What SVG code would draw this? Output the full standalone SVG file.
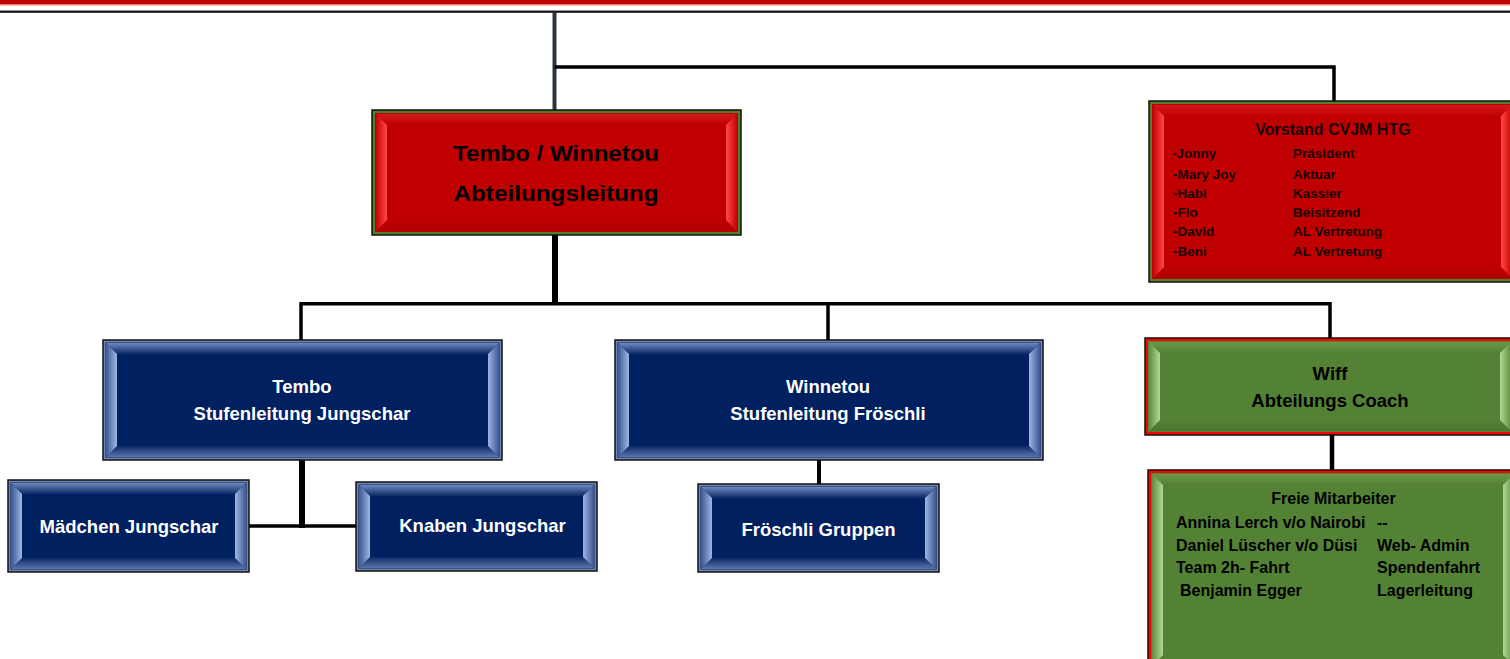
<svg xmlns="http://www.w3.org/2000/svg" width="1510" height="659" viewBox="0 0 1510 659">
<style>
  text{font-family:"Liberation Sans",Arial,sans-serif;font-weight:bold}
  .out{stroke:#111;stroke-width:1.5}
  .wt{fill:#ffffff;font-size:18.5px;text-anchor:middle}
  .bk{fill:#000;text-anchor:middle}
  .sm{fill:#1a0000;font-size:13.5px}
  .fr{fill:#000;font-size:16px}
  .cn{stroke:#000;fill:none;stroke-linecap:butt}
</style>
<defs>
  <linearGradient id="bL" x1="0" x2="1" y1="0" y2="0"><stop offset="0" stop-color="#3a5895"/><stop offset="1" stop-color="#9fb6e0"/></linearGradient>
  <linearGradient id="bR" x1="1" x2="0" y1="0" y2="0"><stop offset="0" stop-color="#3a5895"/><stop offset="1" stop-color="#9fb6e0"/></linearGradient>
  <linearGradient id="bT" x1="0" x2="0" y1="0" y2="1"><stop offset="0" stop-color="#6f88bd"/><stop offset="1" stop-color="#0a2a66"/></linearGradient>
  <linearGradient id="bB" x1="0" x2="0" y1="0" y2="1"><stop offset="0" stop-color="#0a2a66"/><stop offset="1" stop-color="#5b75aa"/></linearGradient>
  <linearGradient id="rL" x1="0" x2="1" y1="0" y2="0"><stop offset="0" stop-color="#c80000"/><stop offset="1" stop-color="#ff4a4a"/></linearGradient>
  <linearGradient id="rR" x1="1" x2="0" y1="0" y2="0"><stop offset="0" stop-color="#c80000"/><stop offset="1" stop-color="#ff4a4a"/></linearGradient>
  <linearGradient id="rT" x1="0" x2="0" y1="0" y2="1"><stop offset="0" stop-color="#d21a1a"/><stop offset="1" stop-color="#c00000"/></linearGradient>
  <linearGradient id="rB" x1="0" x2="0" y1="0" y2="1"><stop offset="0" stop-color="#c00000"/><stop offset="1" stop-color="#b00000"/></linearGradient>
  <linearGradient id="gL" x1="0" x2="1" y1="0" y2="0"><stop offset="0" stop-color="#5e8c3c"/><stop offset="1" stop-color="#b2d896"/></linearGradient>
  <linearGradient id="gR" x1="1" x2="0" y1="0" y2="0"><stop offset="0" stop-color="#5e8c3c"/><stop offset="1" stop-color="#b2d896"/></linearGradient>
  <linearGradient id="gT" x1="0" x2="0" y1="0" y2="1"><stop offset="0" stop-color="#6a9648"/><stop offset="1" stop-color="#548235"/></linearGradient>
  <linearGradient id="gB" x1="0" x2="0" y1="0" y2="1"><stop offset="0" stop-color="#548235"/><stop offset="1" stop-color="#4a7530"/></linearGradient>
</defs>

<!-- top band -->
<rect x="0" y="0" width="1510" height="4.5" fill="#c00000"/>
<rect x="0" y="4.5" width="1510" height="1" fill="#f08080"/>
<rect x="0" y="10" width="1510" height="1" fill="#999"/>
<rect x="0" y="11" width="1510" height="1.8" fill="#111"/>

<g id="connectors">
  <line class="cn" x1="554.5" y1="12" x2="554.5" y2="110" stroke-width="4" style="stroke:#2a3342"/>
  <polyline class="cn" points="554.5,67 1334,67 1334,101" stroke-width="3.5"/>
  <line class="cn" x1="555" y1="235" x2="555" y2="304" stroke-width="6"/>
  <polyline class="cn" points="301,340 301,303.8 1330,303.8 1330,338" stroke-width="3.5"/>
  <line class="cn" x1="828" y1="303.8" x2="828" y2="340" stroke-width="3.5"/>
  <line class="cn" x1="302" y1="460" x2="302" y2="528" stroke-width="6"/>
  <line class="cn" x1="249" y1="526" x2="356" y2="526" stroke-width="3.5"/>
  <line class="cn" x1="819" y1="460" x2="819" y2="484" stroke-width="4"/>
  <line class="cn" x1="1332" y1="435" x2="1332" y2="470" stroke-width="4.5"/>
</g>

<g id="main">
  <rect class="out" x="372" y="110" width="369" height="125" fill="#4f7f2f"/>
  <rect x="375" y="113" width="363" height="119" fill="#c00000"/>
  <polygon points="376,114 737,114 726,125 387,125" fill="url(#rT)"/>
  <polygon points="376,231 737,231 726,220 387,220" fill="url(#rB)"/>
  <polygon points="376,114 387,125 387,220 376,231" fill="url(#rL)"/>
  <polygon points="737,114 726,125 726,220 737,231" fill="url(#rR)"/>
  <text class="bk" x="556" y="161" font-size="22" textLength="206" lengthAdjust="spacingAndGlyphs">Tembo / Winnetou</text>
  <text class="bk" x="556" y="201" font-size="22" textLength="205" lengthAdjust="spacingAndGlyphs">Abteilungsleitung</text>
</g>

<g id="vorstand">
  <rect class="out" x="1149" y="101" width="367" height="181" fill="#4f7f2f"/>
  <rect x="1152" y="104" width="361" height="175" fill="#c00000"/>
  <polygon points="1153,105 1512,105 1501,116 1164,116" fill="url(#rT)"/>
  <polygon points="1153,278 1512,278 1501,267 1164,267" fill="url(#rB)"/>
  <polygon points="1153,105 1164,116 1164,267 1153,278" fill="url(#rL)"/>
  <polygon points="1512,105 1501,116 1501,267 1512,278" fill="url(#rR)"/>
  <text class="bk" x="1333" y="135" font-size="16" style="fill:#1a0000">Vorstand CVJM HTG</text>
  <text class="sm" x="1172" y="158">-Jonny</text><text class="sm" x="1293" y="158">Präsident</text>
  <text class="sm" x="1173" y="179">-Mary Joy</text><text class="sm" x="1293" y="179">Aktuar</text>
  <text class="sm" x="1173" y="198">-Habi</text><text class="sm" x="1293" y="198">Kassier</text>
  <text class="sm" x="1173" y="217">-Flo</text><text class="sm" x="1293" y="217">Beisitzend</text>
  <text class="sm" x="1173" y="236">-David</text><text class="sm" x="1293" y="236">AL Vertretung</text>
  <text class="sm" x="1173" y="256">-Beni</text><text class="sm" x="1293" y="256">AL Vertretung</text>
</g>

<g id="tembo">
  <rect class="out" x="103" y="340" width="399" height="120" fill="#7085b0"/>
  <rect x="105.5" y="342.5" width="394" height="115" fill="#002060"/>
  <polygon points="106,343 499,343 488,354 117,354" fill="url(#bT)"/>
  <polygon points="106,457 499,457 488,446 117,446" fill="url(#bB)"/>
  <polygon points="106,343 117,354 117,446 106,457" fill="url(#bL)"/>
  <polygon points="499,343 488,354 488,446 499,457" fill="url(#bR)"/>
  <text class="wt" x="302" y="393">Tembo</text>
  <text class="wt" x="302" y="419.5">Stufenleitung Jungschar</text>
</g>

<g id="winnetou">
  <rect class="out" x="615" y="340" width="428" height="120" fill="#7085b0"/>
  <rect x="617.5" y="342.5" width="423" height="115" fill="#002060"/>
  <polygon points="618,343 1040,343 1029,354 629,354" fill="url(#bT)"/>
  <polygon points="618,457 1040,457 1029,446 629,446" fill="url(#bB)"/>
  <polygon points="618,343 629,354 629,446 618,457" fill="url(#bL)"/>
  <polygon points="1040,343 1029,354 1029,446 1040,457" fill="url(#bR)"/>
  <text class="wt" x="828" y="392.5">Winnetou</text>
  <text class="wt" x="828" y="419.5">Stufenleitung Fröschli</text>
</g>

<g id="wiff">
  <rect class="out" x="1145" y="338" width="370" height="97" fill="#ff0000"/>
  <rect x="1148" y="341" width="364" height="91" fill="#548235"/>
  <polygon points="1149,342 1511,342 1500,353 1160,353" fill="url(#gT)"/>
  <polygon points="1149,431 1511,431 1500,420 1160,420" fill="url(#gB)"/>
  <polygon points="1149,342 1160,353 1160,420 1149,431" fill="url(#gL)"/>
  <polygon points="1511,342 1500,353 1500,420 1511,431" fill="url(#gR)"/>
  <text class="bk" x="1330" y="379.5" font-size="18.5">Wiff</text>
  <text class="bk" x="1330" y="406.5" font-size="18.5">Abteilungs Coach</text>
</g>

<g id="maedchen">
  <rect class="out" x="8" y="480" width="241" height="92" fill="#7085b0"/>
  <rect x="10.5" y="482.5" width="236" height="87" fill="#002060"/>
  <polygon points="11,483 246,483 235,494 22,494" fill="url(#bT)"/>
  <polygon points="11,569 246,569 235,558 22,558" fill="url(#bB)"/>
  <polygon points="11,483 22,494 22,558 11,569" fill="url(#bL)"/>
  <polygon points="246,483 235,494 235,558 246,569" fill="url(#bR)"/>
  <text class="wt" x="129" y="532.5">Mädchen Jungschar</text>
</g>

<g id="knaben">
  <rect class="out" x="356" y="482" width="241" height="89" fill="#7085b0"/>
  <rect x="358.5" y="484.5" width="236" height="84" fill="#002060"/>
  <polygon points="359,485 594,485 583,496 370,496" fill="url(#bT)"/>
  <polygon points="359,568 594,568 583,557 370,557" fill="url(#bB)"/>
  <polygon points="359,485 370,496 370,557 359,568" fill="url(#bL)"/>
  <polygon points="594,485 583,496 583,557 594,568" fill="url(#bR)"/>
  <text class="wt" x="482.5" y="531.5">Knaben Jungschar</text>
</g>

<g id="froeschli">
  <rect class="out" x="698" y="484" width="241" height="88" fill="#7085b0"/>
  <rect x="700.5" y="486.5" width="236" height="83" fill="#002060"/>
  <polygon points="701,487 936,487 925,498 712,498" fill="url(#bT)"/>
  <polygon points="701,569 936,569 925,558 712,558" fill="url(#bB)"/>
  <polygon points="701,487 712,498 712,558 701,569" fill="url(#bL)"/>
  <polygon points="936,487 925,498 925,558 936,569" fill="url(#bR)"/>
  <text class="wt" x="818.5" y="535.5">Fröschli Gruppen</text>
</g>

<g id="freie">
  <rect class="out" x="1148" y="470" width="370" height="200" fill="#ff0000"/>
  <rect x="1151" y="473" width="364" height="194" fill="#548235"/>
  <polygon points="1152,474 1514,474 1503,485 1163,485" fill="url(#gT)"/>
  <polygon points="1152,474 1163,485 1163,655 1152,666" fill="url(#gL)"/>
  <polygon points="1514,474 1503,485 1503,655 1514,666" fill="url(#gR)"/>
  <text class="bk" x="1333.5" y="504" font-size="16">Freie Mitarbeiter</text>
  <text class="fr" x="1176" y="527.5">Annina Lerch v/o Nairobi</text><text class="fr" x="1377" y="527.5">--</text>
  <text class="fr" x="1176" y="550.5">Daniel Lüscher v/o Düsi</text><text class="fr" x="1377" y="550.5">Web- Admin</text>
  <text class="fr" x="1176" y="573">Team 2h- Fahrt</text><text class="fr" x="1377" y="573">Spendenfahrt</text>
  <text class="fr" x="1180" y="596">Benjamin Egger</text><text class="fr" x="1377" y="596">Lagerleitung</text>
</g>
</svg>
